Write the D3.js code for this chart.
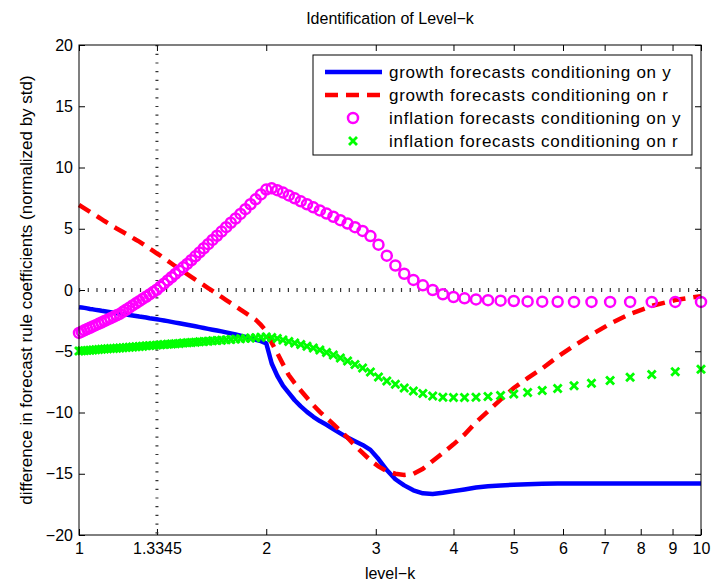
<!DOCTYPE html>
<html>
<head>
<meta charset="utf-8">
<script src="https://cdn.jsdelivr.net/npm/d3@7"></script>
<style>
body { margin: 0; background: #fff; }
text { font-family: "Liberation Sans", Arial, Helvetica, sans-serif; }
</style>
</head>
<body>
<div id="chart"></div>
<script>
// Grid of the computation: 1/k from 1.00 down to 0.10 (so level-k runs 1 .. 10)
const invLevel = [
    1.00, 0.99, 0.98, 0.97, 0.96, 0.95, 0.94, 0.93, 0.92, 0.91,
    0.90, 0.89, 0.88, 0.87, 0.86, 0.85, 0.84, 0.83, 0.82, 0.81,
    0.80, 0.79, 0.78, 0.77, 0.76, 0.75, 0.74, 0.73, 0.72, 0.71,
    0.70, 0.69, 0.68, 0.67, 0.66, 0.65, 0.64, 0.63, 0.62, 0.61,
    0.60, 0.59, 0.58, 0.57, 0.56, 0.55, 0.54, 0.53, 0.52, 0.51,
    0.50, 0.49, 0.48, 0.47, 0.46, 0.45, 0.44, 0.43, 0.42, 0.41,
    0.40, 0.39, 0.38, 0.37, 0.36, 0.35, 0.34, 0.33, 0.32, 0.31,
    0.30, 0.29, 0.28, 0.27, 0.26, 0.25, 0.24, 0.23, 0.22, 0.21,
    0.20, 0.19, 0.18, 0.17, 0.16, 0.15, 0.14, 0.13, 0.12, 0.11,
    0.10
];

// growth forecasts conditioning on y (blue solid)
const growthOnY = [
    -1.40, -1.43, -1.46, -1.50, -1.55, -1.58, -1.62, -1.66, -1.70, -1.73,
    -1.77, -1.81, -1.85, -1.89, -1.93, -1.97, -2.00, -2.04, -2.08, -2.12,
    -2.17, -2.21, -2.25, -2.30, -2.34, -2.39, -2.44, -2.49, -2.54, -2.60,
    -2.66, -2.72, -2.78, -2.84, -2.90, -2.96, -3.03, -3.10, -3.17, -3.24,
    -3.31, -3.38, -3.46, -3.54, -3.63, -3.73, -3.83, -3.94, -4.06, -4.18,
    -4.35, -6.00, -7.00, -7.80, -8.40, -9.00, -9.50, -9.95, -10.35, -10.70,
    -11.00, -11.35, -11.70, -12.05, -12.35, -12.65, -13.05, -13.80, -14.70, -15.45,
    -15.95, -16.35, -16.60, -16.65, -16.55, -16.42, -16.28, -16.13, -16.02, -15.95,
    -15.90, -15.85, -15.82, -15.80, -15.80, -15.80, -15.80, -15.80, -15.80, -15.80,
    -15.80
];

// growth forecasts conditioning on r (red dashed)
const growthOnR = [
    6.94, 6.80, 6.66, 6.52, 6.38, 6.23, 6.09, 5.94, 5.79, 5.63,
    5.48, 5.33, 5.17, 5.02, 4.88, 4.73, 4.58, 4.42, 4.26, 4.10,
    3.95, 3.77, 3.58, 3.39, 3.20, 3.00, 2.81, 2.60, 2.38, 2.16,
    1.94, 1.73, 1.52, 1.30, 1.08, 0.85, 0.63, 0.40, 0.16, -0.08,
    -0.32, -0.57, -0.82, -1.08, -1.33, -1.60, -1.87, -2.15, -2.43, -2.85,
    -3.35, -4.30, -5.15, -6.05, -6.95, -7.60, -8.20, -8.80, -9.40, -9.95,
    -10.45, -10.95, -11.50, -12.05, -12.70, -13.30, -13.90, -14.40, -14.80, -15.00,
    -15.10, -15.00, -14.60, -13.95, -13.30, -12.60, -11.80, -10.80, -9.90, -8.95,
    -8.00, -7.20, -6.40, -5.45, -4.55, -3.65, -2.75, -1.95, -1.30, -0.82,
    -0.50
];

// inflation forecasts conditioning on y (magenta circles)
const inflationOnY = [
    -3.50, -3.40, -3.29, -3.19, -3.08, -2.97, -2.87, -2.76, -2.65, -2.53,
    -2.42, -2.31, -2.19, -2.07, -1.95, -1.78, -1.61, -1.44, -1.26, -1.09,
    -0.91, -0.73, -0.55, -0.36, -0.17, 0.02, 0.27, 0.52, 0.78, 1.04,
    1.31, 1.58, 1.85, 2.13, 2.43, 2.75, 3.07, 3.41, 3.74, 4.09,
    4.43, 4.77, 5.13, 5.49, 5.84, 6.21, 6.60, 7.00, 7.40, 7.80,
    8.20, 8.30, 8.15, 7.95, 7.72, 7.48, 7.24, 7.00, 6.75, 6.50,
    6.24, 5.98, 5.70, 5.42, 5.13, 4.82, 4.40, 3.70, 2.80, 2.00,
    1.33, 0.82, 0.38, 0.00, -0.35, -0.57, -0.68, -0.77, -0.83, -0.87,
    -0.90, -0.93, -0.95, -0.96, -0.97, -0.97, -0.97, -0.97, -0.97, -0.97,
    -0.97
];

// inflation forecasts conditioning on r (green crosses)
const inflationOnR = [
    -4.98, -4.96, -4.95, -4.93, -4.91, -4.89, -4.88, -4.86, -4.84, -4.82,
    -4.80, -4.78, -4.77, -4.75, -4.73, -4.71, -4.69, -4.67, -4.65, -4.63,
    -4.61, -4.59, -4.56, -4.54, -4.52, -4.50, -4.48, -4.45, -4.43, -4.41,
    -4.38, -4.36, -4.33, -4.31, -4.28, -4.26, -4.23, -4.21, -4.18, -4.15,
    -4.12, -4.10, -4.07, -4.04, -4.01, -3.98, -3.95, -3.92, -3.89, -3.86,
    -3.84, -3.88, -3.96, -4.08, -4.20, -4.33, -4.45, -4.60, -4.73, -4.90,
    -5.10, -5.31, -5.55, -5.80, -6.08, -6.37, -6.70, -7.10, -7.43, -7.70,
    -8.00, -8.24, -8.45, -8.65, -8.76, -8.78, -8.77, -8.75, -8.69, -8.61,
    -8.49, -8.37, -8.20, -8.04, -7.81, -7.62, -7.39, -7.13, -6.90, -6.67,
    -6.47
];

const xTickValues = [1, 1.3345, 2, 3, 4, 5, 6, 7, 8, 9, 10];
const xTickLabels = ["1", "1.3345", "2", "3", "4", "5", "6", "7", "8", "9", "10"];
const yTickValues = [-20, -15, -10, -5, 0, 5, 10, 15, 20];
const identifiedK = 1.3345;

const legendLabels = [
    "growth forecasts conditioning on y",
    "growth forecasts conditioning on r",
    "inflation forecasts conditioning on y",
    "inflation forecasts conditioning on r"
];

// Set the margins for the chart
let margin = {top: 45, right: 12, bottom: 50, left: 79},
    width = 713 - margin.left - margin.right,
    height = 585 - margin.top - margin.bottom;

let levelK = invLevel.map(d => 1 / d);

let x = d3.scaleLog()
    .domain([1, 10])
    .range([0, width]);

let y = d3.scaleLinear()
    .domain([-20, 20])
    .range([height, 0]);

let svg = d3.select("#chart").append("svg")
    .attr("width", 713)
    .attr("height", 585)
    .append("g")
    .attr("transform", "translate(" + margin.left + "," + margin.top + ")");

// Axes with the ticks pointing inwards (on all four sides, like matlab)
let xAxis = d3.axisBottom(x)
    .tickValues(xTickValues)
    .tickFormat((d, i) => xTickLabels[i])
    .tickSizeInner(-6).tickSizeOuter(0).tickPadding(8);
let xAxisTop = d3.axisTop(x)
    .tickValues(xTickValues)
    .tickFormat("")
    .tickSizeInner(-6).tickSizeOuter(0);
let yAxis = d3.axisLeft(y)
    .tickValues(yTickValues)
    .tickFormat(d3.format("d"))
    .tickSizeInner(-6).tickSizeOuter(0).tickPadding(6);
let yAxisRight = d3.axisRight(y)
    .tickValues(yTickValues)
    .tickFormat("")
    .tickSizeInner(-6).tickSizeOuter(0);

function styleAxis(g) {
    g.select(".domain").remove();
    g.selectAll(".tick line").attr("stroke", "#000");
    g.selectAll(".tick text").attr("fill", "#000").style("font-size", "16px");
}

svg.append("g").attr("transform", "translate(0," + height + ")").call(xAxis).call(styleAxis);
svg.append("g").call(xAxisTop).call(styleAxis);
svg.append("g").call(yAxis).call(styleAxis);
svg.append("g").attr("transform", "translate(" + width + ",0)").call(yAxisRight).call(styleAxis);

// Dotted reference lines (zero and identified level-k)
svg.append("line")
    .attr("x1", 0).attr("x2", width)
    .attr("y1", y(0)).attr("y2", y(0))
    .attr("stroke", "#333").attr("stroke-width", 4)
    .attr("stroke-dasharray", "1.2,7.5");
svg.append("line")
    .attr("x1", x(identifiedK)).attr("x2", x(identifiedK))
    .attr("y1", 0).attr("y2", height)
    .attr("stroke", "#333").attr("stroke-width", 3)
    .attr("stroke-dasharray", "1.2,7.5");

let plotArea = svg.append("g");

// Lines
let lineOf = values => d3.line()
    .x((d, i) => x(levelK[i]))
    .y(d => y(d))(values);

plotArea.append("path")
    .attr("d", lineOf(growthOnY))
    .attr("fill", "none")
    .attr("stroke", "#0000ff")
    .attr("stroke-width", 4.5)
    .attr("stroke-linejoin", "round");

plotArea.append("path")
    .attr("d", lineOf(growthOnR))
    .attr("fill", "none")
    .attr("stroke", "#ff0000")
    .attr("stroke-width", 4.5)
    .attr("stroke-dasharray", "13,8");

// Circle markers
plotArea.selectAll(".circ")
    .data(inflationOnY)
    .join("circle")
    .attr("class", "circ")
    .attr("cx", (d, i) => x(levelK[i]))
    .attr("cy", d => y(d))
    .attr("r", 5)
    .attr("fill", "none")
    .attr("stroke", "#ff00ff")
    .attr("stroke-width", 2.5);

// Cross markers
const crossPath = "M-3,-3L3,3M-3,3L3,-3";
plotArea.selectAll(".cross")
    .data(inflationOnR)
    .join("path")
    .attr("class", "cross")
    .attr("d", crossPath)
    .attr("transform", (d, i) => "translate(" + x(levelK[i]) + "," + y(d) + ")")
    .attr("fill", "none")
    .attr("stroke", "#00ff00")
    .attr("stroke-width", 2.8)
    .attr("stroke-linecap", "square");

// Axes box
svg.append("rect")
    .attr("width", width).attr("height", height)
    .attr("fill", "none").attr("stroke", "#000").attr("stroke-width", 1);

// Title and axis labels
svg.append("text")
    .attr("x", width / 2).attr("y", -21)
    .attr("text-anchor", "middle")
    .style("font-size", "16px")
    .text("Identification of Level\u2212k");

svg.append("text")
    .attr("x", width / 2).attr("y", height + 44)
    .attr("text-anchor", "middle")
    .style("font-size", "16px")
    .text("level\u2212k");

svg.append("text")
    .attr("transform", "translate(" + (32 - margin.left) + "," + (height / 2) + ") rotate(-90)")
    .attr("text-anchor", "middle")
    .style("font-size", "17px")
    .text("difference in forecast rule coefficients (normalized by std)");

// Legend
let legend = svg.append("g").attr("transform", "translate(" + (313 - margin.left) + "," + (55 - margin.top) + ")");
legend.append("rect")
    .attr("width", 379).attr("height", 100)
    .attr("fill", "#fff").attr("stroke", "#000").attr("stroke-width", 1);

let rowY = i => 17 + i * 23;

legend.append("line").attr("x1", 12).attr("x2", 69).attr("y1", rowY(0)).attr("y2", rowY(0))
    .attr("stroke", "#0000ff").attr("stroke-width", 4.5);
legend.append("line").attr("x1", 12).attr("x2", 69).attr("y1", rowY(1)).attr("y2", rowY(1))
    .attr("stroke", "#ff0000").attr("stroke-width", 4.5).attr("stroke-dasharray", "13,8");
legend.append("circle").attr("cx", 40).attr("cy", rowY(2)).attr("r", 5)
    .attr("fill", "none").attr("stroke", "#ff00ff").attr("stroke-width", 2.5);
legend.append("path").attr("d", crossPath)
    .attr("transform", "translate(40," + rowY(3) + ")")
    .attr("fill", "none").attr("stroke", "#00ff00").attr("stroke-width", 2.8).attr("stroke-linecap", "square");

legend.selectAll(".label")
    .data(legendLabels)
    .join("text")
    .attr("class", "label")
    .attr("x", 76)
    .attr("y", (d, i) => rowY(i) + 6)
    .style("font-size", "17px")
    .style("letter-spacing", "0.75px")
    .text(d => d);
</script>
</body>
</html>
